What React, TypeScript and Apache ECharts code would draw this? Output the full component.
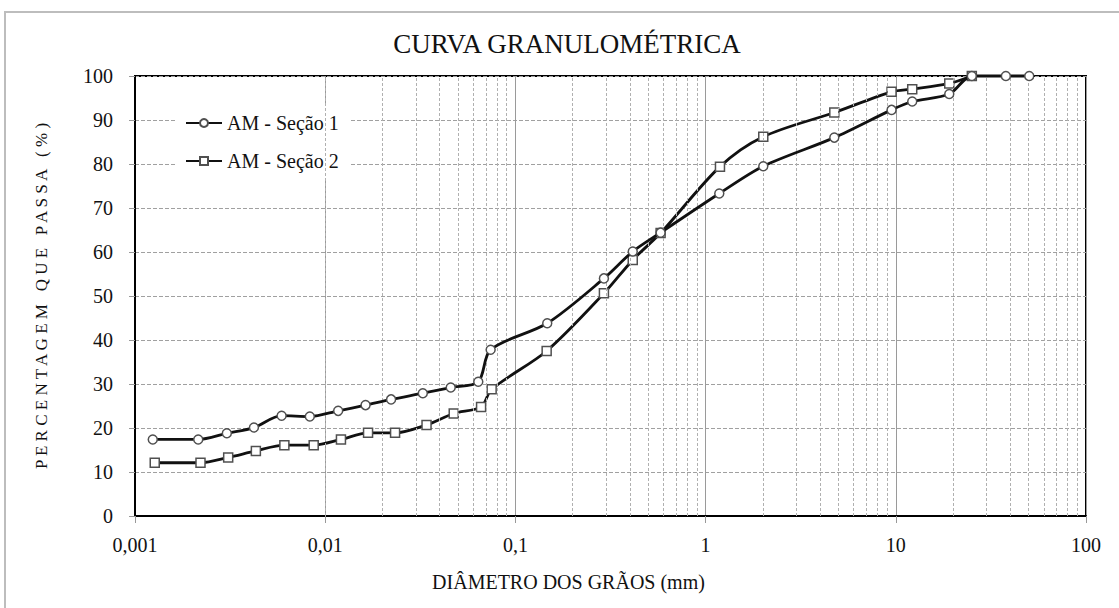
import React, { useEffect, useRef } from "react";
import * as echarts from "echarts";

const diam1 = [0.00124, 0.00215, 0.00304, 0.00422, 0.0059, 0.0083, 0.0117, 0.0163, 0.0222, 0.0326, 0.0457, 0.0638, 0.0741, 0.147, 0.292, 0.414, 0.58, 1.18, 2.01, 4.75, 9.5, 12.2, 19.1, 25.1, 37.9, 50.3];
const pass1 = [17.4, 17.4, 18.8, 20.1, 22.8, 22.6, 23.9, 25.2, 26.5, 27.9, 29.2, 30.5, 37.8, 43.8, 54.0, 60.1, 64.4, 73.3, 79.5, 86.0, 92.3, 94.2, 95.9, 100, 100, 100];
const diam2 = [0.00127, 0.00221, 0.00309, 0.00432, 0.0061, 0.0087, 0.0121, 0.0168, 0.0233, 0.0341, 0.0474, 0.066, 0.075, 0.146, 0.292, 0.414, 0.58, 1.19, 2.01, 4.75, 9.5, 12.2, 19.1, 25.1];
const pass2 = [12.1, 12.1, 13.3, 14.8, 16.1, 16.1, 17.4, 18.9, 18.9, 20.7, 23.3, 24.8, 28.8, 37.5, 50.6, 58.2, 64.3, 79.4, 86.2, 91.7, 96.4, 97.0, 98.3, 100];
const seriesNames = ["AM - Seção 1", "AM - Seção 2"];
const decades = [0.001, 0.01, 0.1, 1, 10];
const minorSteps = [2, 3, 4, 5, 6, 7, 8, 9];

const FONT = "'Liberation Serif', 'Times New Roman', serif";

export default function App() {
  const ref = useRef<HTMLDivElement>(null);
  useEffect(() => {
    document.body.style.margin = "0";
    const chart = echarts.init(ref.current!, null, { renderer: "svg" });
    const minorLines: any[] = [];
    decades.forEach((d) => minorSteps.forEach((k) => minorLines.push({ xAxis: +(d * k).toPrecision(6) })));
    const markerStyle = { color: "#fff", borderColor: "#505050", borderWidth: 1.5 };
    chart.setOption({
      animation: false,
      textStyle: { fontFamily: FONT },
      title: {
        text: "CURVA GRANULOMÉTRICA",
        left: 562,
        top: 25,
        textAlign: "center",
        textStyle: { fontFamily: FONT, fontSize: 27, fontWeight: "normal", color: "#111" },
      },
      graphic: [
        {
          type: "rect",
          shape: { x: 5, y: 12, width: 1200, height: 700 },
          style: { fill: "none", stroke: "#bdbdbd", lineWidth: 2 },
          silent: true,
        },
      ],
      legend: {
        data: seriesNames,
        left: 177,
        top: 103,
        orient: "vertical",
        itemWidth: 36,
        itemHeight: 10,
        itemGap: 18,
        padding: [10, 12, 9, 8],
        backgroundColor: "#fff",
        textStyle: { fontFamily: FONT, fontSize: 20, color: "#111" },
      },
      grid: {
        left: 135,
        right: 33,
        top: 76,
        bottom: 92,
        show: true,
        borderColor: "#000",
        borderWidth: 2,
        backgroundColor: "transparent",
      },
      xAxis: {
        type: "log",
        logBase: 10,
        min: 0.001,
        max: 100,
        name: "DIÂMETRO DOS GRÃOS (mm)",
        nameLocation: "middle",
        nameGap: 56,
        nameTextStyle: { fontFamily: FONT, fontSize: 20, color: "#111", padding: [0, 84, 0, 0] },
        axisLine: { lineStyle: { color: "#000", width: 2 } },
        axisTick: { show: true, inside: false, length: 7, lineStyle: { color: "#999" } },
        axisLabel: {
          margin: 19,
          fontFamily: FONT,
          fontSize: 20,
          color: "#111",
          formatter: (v: number) => String(+(+v).toPrecision(6)).replace(".", ","),
        },
        splitLine: { show: true, lineStyle: { color: "#9a9a9a", width: 1 } },
      },
      yAxis: {
        type: "value",
        min: 0,
        max: 100,
        interval: 10,
        name: "P E R C E N T A G E M   Q U E   P A S S A   ( % )",
        nameLocation: "middle",
        nameGap: 85,
        nameRotate: 90,
        nameTextStyle: { fontFamily: FONT, fontSize: 17, color: "#111" },
        axisLine: { show: true, lineStyle: { color: "#000", width: 2 } },
        axisTick: { show: true, inside: false, length: 6, lineStyle: { color: "#999" } },
        axisLabel: { margin: 22, fontFamily: FONT, fontSize: 20, color: "#111" },
        splitLine: { show: true, lineStyle: { color: "#a0a0a0", type: [4, 2], width: 1 } },
      },
      series: [
        {
          name: "minor-grid",
          type: "line",
          data: [],
          silent: true,
          z: 1,
          markLine: {
            silent: true,
            symbol: "none",
            label: { show: false },
            lineStyle: { color: "#b0b0b0", type: [3, 2], width: 1 },
            data: minorLines,
          },
        },
        {
          name: seriesNames[0],
          type: "line",
          data: diam1.map((d, i) => [d, pass1[i]]),
          smooth: 0.3,
          clip: false,
          symbol: "circle",
          symbolSize: 9,
          z: 5,
          itemStyle: markerStyle,
          lineStyle: { color: "#111", width: 2.8 },
        },
        {
          name: seriesNames[1],
          type: "line",
          data: diam2.map((d, i) => [d, pass2[i]]),
          smooth: 0.3,
          clip: false,
          symbol: "rect",
          symbolSize: 9,
          z: 4,
          itemStyle: markerStyle,
          lineStyle: { color: "#111", width: 2.8 },
        },
      ],
    });
    return () => chart.dispose();
  }, []);
  return <div ref={ref} style={{ width: 1119, height: 608 }} />;
}
